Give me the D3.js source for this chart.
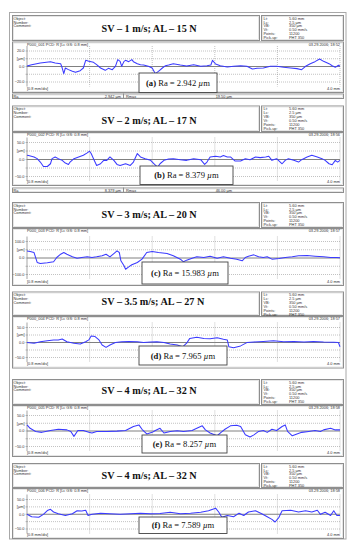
<!DOCTYPE html>
<html>
<head>
<meta charset="utf-8">
<script src="https://d3js.org/d3.v7.min.js"></script>
<style>
body { margin: 0; background: #fff; }
.small { font-family: "Liberation Sans", Arial, sans-serif; font-size: 3.9px; fill: #333; }
.title { font-family: "Liberation Serif", "Times New Roman", serif; font-size: 10.2px; font-weight: bold; fill: #111; }
.cap { font-family: "Liberation Serif", "Times New Roman", serif; font-size: 8.6px; fill: #111; }
</style>
</head>
<body>
<script>
// panel texts
var titles = ["SV – 1 m/s; AL – 15 N", "SV – 2 m/s; AL – 17 N", "SV – 3 m/s; AL – 20 N",
	"SV – 3.5 m/s; AL – 27 N", "SV – 4 m/s; AL – 32 N", "SV – 4 m/s; AL – 32 N"];
var captionLetters = ["(a)", "(b)", "(c)", "(d)", "(e)", "(f)"];
var raValues = ["2.942", "8.379", "15.983", "7.965", "8.257", "7.589"];
var rmaxValues = ["19.50", "46.00"];
var yLimits = [20, 50, 100, 50, 50, 50];
var profileNames = ["P000_001", "P000_002", "P000_003", "P000_004", "P000_005", "P000_006"];
var profileTimes = ["18:52", "18:56", "18:57", "18:57", "18:58", "18:58"];
var headerLabels = ["Object:", "Number:", "Comment:"];
var infoLabels = ["Lt:", "Lc:", "VB:", "Vt:", "Points:", "Pick-up:"];
var infoValues = ["5.60 mm", "2.5 µm", "350 µm", "0.50 mm/s", "11200", "PHT 350"];
var divTicks = [0.8, 1.6, 2.4, 3.2, 4.0];

// profiles: distance [mm], height [µm]
var dist1 = [0,0.06,0.17,0.30,0.36,0.43,0.45,0.47,0.49,0.53,0.58,0.62,0.68,0.72,0.75,0.79,0.85,0.89,0.94,1.00,1.04,1.09,1.13,1.16,1.19,1.21,1.24,1.26,1.30,1.34,1.36,1.41,1.45,1.49,1.55,1.60,1.64,1.68,1.73,1.77,1.81,1.87,1.96,2.04,2.13,2.22,2.30,2.35,2.37,2.41,2.47,2.56,2.64,2.73,2.81,2.88,2.94,3.02,3.11,3.19,3.28,3.37,3.45,3.51,3.56,3.62,3.68,3.74,3.79,3.86,3.90,3.94,3.98,4.00];
var prof1 = [0,1.7,3.9,5.6,3.9,3.0,-2.6,-9.9,-2.6,-4.7,-6.9,-8.2,-6.0,-2.6,7.3,6.0,4.7,1.7,-2.6,-5.6,-3.0,-4.7,-0.4,8.2,6.0,-0.4,6.0,7.3,5.6,8.2,5.6,3.0,1.7,1.3,-0.4,-2.6,-9.9,-6.9,-2.6,0.4,1.3,3.0,1.3,0,1.7,-0.4,0.4,1.3,7.3,2.6,0.4,-1.3,-0.4,0.4,-0.4,-3.9,-3.0,-2.6,-0.4,-0.4,-1.7,-2.6,-3.4,-4.7,-0.4,3.0,5.6,9.0,6.0,3.0,0.4,-1.7,0.9,-0.4];

var dist2 = [0,0.02,0.09,0.13,0.17,0.21,0.26,0.30,0.32,0.36,0.40,0.45,0.49,0.53,0.55,0.60,0.66,0.72,0.77,0.80,0.82,0.85,0.89,0.94,0.98,1.02,1.06,1.11,1.15,1.19,1.26,1.32,1.36,1.41,1.45,1.51,1.58,1.63,1.67,1.70,1.75,1.81,1.87,1.96,2.04,2.13,2.22,2.27,2.30,2.34,2.41,2.47,2.51,2.56,2.60,2.66,2.73,2.79,2.85,2.92,2.98,3.05,3.09,3.13,3.19,3.26,3.30,3.34,3.41,3.47,3.51,3.58,3.64,3.71,3.77,3.81,3.86,3.90,3.94,3.97,4.00];
var prof2 = [11,10,6,1,-9,-22,-22,-14,1,6,1,-4,-12,-16,-9,1,6,11,18,23,16,1,-19,-14,-4,-4,6,-4,-16,-19,-14,-19,-9,16,6,1,-4,-16,-24,-14,-4,0,1,-2,-4,1,-2,-16,-9,6,8,6,10,6,6,-6,-6,1,-2,6,4,6,8,-4,1,-14,-4,1,-4,-9,-2,6,11,6,1,-4,-14,-17,-4,-9,-4];

var dist3 = [0,0.04,0.09,0.13,0.17,0.26,0.34,0.38,0.43,0.47,0.51,0.58,0.64,0.70,0.77,0.83,0.89,0.96,1.01,1.06,1.11,1.15,1.18,1.20,1.24,1.26,1.30,1.34,1.41,1.47,1.53,1.60,1.68,1.79,1.87,1.96,2.00,2.04,2.11,2.17,2.26,2.34,2.43,2.51,2.60,2.68,2.75,2.79,2.83,2.90,2.96,3.02,3.07,3.13,3.22,3.30,3.39,3.47,3.58,3.68,3.79,3.88,3.96,4.00];
var prof3 = [40,36,30,-30,-36,-32,-26,0,20,30,20,4,-4,0,4,0,4,10,20,4,24,40,30,-20,-50,-71,-57,-44,-30,-10,30,36,30,24,10,-10,-26,-16,-4,4,0,8,-4,4,-4,-10,-20,0,8,16,4,0,4,-10,-6,0,4,10,12,8,4,0,0,-2];

var dist4 = [0,0.09,0.17,0.26,0.34,0.40,0.45,0.51,0.60,0.68,0.75,0.79,0.82,0.87,0.92,0.96,1.01,1.06,1.13,1.21,1.30,1.41,1.49,1.58,1.66,1.75,1.83,1.92,1.99,2.04,2.08,2.17,2.26,2.34,2.43,2.51,2.56,2.58,2.64,2.73,2.81,2.90,3.02,3.15,3.28,3.41,3.54,3.66,3.79,3.92,3.98,4.00];
var prof4 = [-2,-4,1,4,7,7,10,1,-4,-7,1,7,20,18,7,-10,-18,-10,-2,1,2,1,-2,0,1,-2,-7,-10,-16,-4,12,16,12,11,14,9,7,-16,-19,-13,-2,0,2,4,1,2,0,2,0,-1,-2,-16];

var dist5 = [0,0.04,0.11,0.19,0.30,0.40,0.51,0.56,0.60,0.65,0.72,0.79,0.83,0.89,1.02,1.15,1.26,1.36,1.43,1.47,1.53,1.60,1.64,1.70,1.75,1.83,1.92,2.00,2.11,2.17,2.24,2.28,2.34,2.43,2.48,2.53,2.60,2.68,2.73,2.79,2.85,2.90,2.96,3.02,3.07,3.13,3.19,3.26,3.30,3.33,3.39,3.45,3.51,3.60,3.68,3.75,3.79,3.88,3.94,4.00];
var prof5 = [18,7,-3,-6,0,4,2,-3,-19,0,0,-6,-8,-3,-3,-2,0,13,18,4,-11,-6,0,7,-8,-3,-1,-3,0,7,15,2,-8,-17,-6,4,15,17,13,-14,-21,-14,-3,0,-6,4,0,13,18,-3,-17,-11,-6,-3,0,-3,2,7,2,2];

var dist6 = [0,0.06,0.15,0.21,0.26,0.30,0.34,0.40,0.49,0.58,0.64,0.70,0.75,0.78,0.83,0.94,1.06,1.19,1.32,1.45,1.58,1.70,1.83,1.96,2.09,2.22,2.32,2.41,2.45,2.49,2.56,2.64,2.71,2.77,2.83,2.92,3.00,3.07,3.13,3.17,3.22,3.26,3.37,3.47,3.56,3.64,3.71,3.75,3.81,3.88,3.92,3.96,4.00];
var prof6 = [-2,-10,-12,-2,11,15,6,0,-6,0,10,9,12,-6,-2,2,0,-2,0,2,0,1,5,0,2,5,10,19,6,-12,-6,-10,2,-6,6,10,0,-10,-19,-28,-12,10,12,6,10,6,12,-2,5,-6,10,-6,-6];

var distances = [dist1, dist2, dist3, dist4, dist5, dist6];
var profiles = [prof1, prof2, prof3, prof4, prof5, prof6];

drawSheet();

function drawSheet(){

	var width = 355,
		height = 550;

	//layout of the six report blocks
	var plotLeft = 27, plotRight = 340;
	var headerTop = [15, 105.5, 202, 291.5, 379, 463],
		headerBot = [40, 131, 227, 315, 404, 487],
		titleBase = [31.7, 124.3, 217.5, 305, 394, 479],
		chartTop = [41.5, 132, 228, 316, 405, 488],
		chartBot = [92, 185, 285, 367.5, 456, 538],
		gridTop = [50.5, 142, 241, 327, 415, 499],
		gridBot = [81.5, 176, 274, 357, 446, 528.5],
		footTop = [93.5, 187.5],
		capBox = [[139, 73, 78, 19.5], [140, 166, 93, 18.5], [142, 262, 86, 22],
			[139, 346, 88, 19], [142, 435, 85, 18], [139, 517, 88, 16.5]];

	var svg = d3.select("body")
		.append("svg")
		.attr("width", width)
		.attr("height", height);

	//outer frame
	svg.append("rect")
		.attr("x", 9.5)
		.attr("y", 12.5)
		.attr("width", 336.5)
		.attr("height", 526.5)
		.attr("fill", "none")
		.attr("stroke", "#a8a8a8");

	var x = d3.scaleLinear()
		.domain([0, 4])
		.range([plotLeft, plotRight]);

	var line = d3.line()
		.x(function(d){ return x(d[0]); });

	function box(g, bx, by, bw, bh){
		g.append("rect")
			.attr("x", bx + 0.5).attr("y", by + 0.5)
			.attr("width", bw).attr("height", bh)
			.attr("fill", "none")
			.attr("stroke", "#8e8e8e");
		g.append("rect")
			.attr("x", bx + 1.5).attr("y", by + 1.5)
			.attr("width", bw - 2).attr("height", bh - 2)
			.attr("fill", "none")
			.attr("stroke", "#dcdcdc")
			.attr("stroke-width", 0.7);
	}

	for (var i = 0; i < 6; i++){
		var g = svg.append("g").attr("class", "panel");

		//header
		box(g, 12, headerTop[i], 247, headerBot[i] - headerTop[i]);
		box(g, 261, headerTop[i], 82, headerBot[i] - headerTop[i]);

		headerLabels.forEach(function(t, k){
			g.append("text").attr("class", "small")
				.attr("x", 13.5).attr("y", headerTop[i] + 4.6 + k * 3.9)
				.text(t);
		});
		infoLabels.forEach(function(t, k){
			g.append("text").attr("class", "small")
				.attr("x", 263.5).attr("y", headerTop[i] + 4.6 + k * 3.9)
				.text(t);
			g.append("text").attr("class", "small")
				.attr("x", 289).attr("y", headerTop[i] + 4.6 + k * 3.9)
				.text(infoValues[k]);
		});

		g.append("text")
			.attr("class", "title")
			.attr("x", 101.5)
			.attr("y", titleBase[i])
			.text(titles[i]);

		//chart box
		box(g, 12, chartTop[i], 331, chartBot[i] - chartTop[i]);

		g.append("text").attr("class", "small")
			.attr("x", plotLeft).attr("y", chartTop[i] + 4.2)
			.text(profileNames[i] + " PCD: R [Lc GS: 0.8 mm]");
		g.append("text").attr("class", "small")
			.attr("x", plotRight).attr("y", chartTop[i] + 4.2)
			.attr("text-anchor", "end")
			.text("03.29.2006; " + profileTimes[i]);
		g.append("text").attr("class", "small")
			.attr("x", plotLeft).attr("y", chartBot[i] - 2.2)
			.text("[0.8 mm/div]");
		g.append("text").attr("class", "small")
			.attr("x", plotRight).attr("y", chartBot[i] - 2.2)
			.attr("text-anchor", "end")
			.text("4.0 mm");

		var lim = yLimits[i];
		var y = d3.scaleLinear()
			.domain([-lim, lim])
			.range([gridBot[i], gridTop[i]]);
		var yTicks = [-lim, -lim / 2, 0, lim / 2, lim];
		var pTop = gridTop[i] - 4.5,
			pBot = gridBot[i] + 5;

		//horizontal grid
		var grid = g.append("g")
			.attr("transform", "translate(" + plotLeft + ",0)")
			.call(d3.axisLeft(y)
				.tickValues(yTicks)
				.tickSize(-(plotRight - plotLeft))
				.tickFormat(""));
		grid.select(".domain").remove();
		grid.selectAll(".tick line")
			.attr("stroke", function(d){ return d == 0 ? "#808080" : "#909090"; })
			.attr("stroke-width", function(d){ return d == 0 ? 1 : 0.55; })
			.attr("stroke-dasharray", function(d){ return d == 0 ? null : "1,1"; });

		//vertical grid
		g.selectAll(".vgrid" + i)
			.data(divTicks)
			.enter()
			.append("line")
			.attr("x1", function(d){ return x(d); })
			.attr("x2", function(d){ return x(d); })
			.attr("y1", pTop)
			.attr("y2", pBot)
			.attr("stroke", "#909090")
			.attr("stroke-width", 0.55)
			.attr("stroke-dasharray", "1,1");

		//y axis with labels
		var yAxis = g.append("g")
			.attr("transform", "translate(" + plotLeft + ",0)")
			.call(d3.axisLeft(y)
				.tickValues(yTicks)
				.tickSize(1.5)
				.tickPadding(1)
				.tickFormat(function(d){
					if (d == lim / 2) return "[µm]";
					if (d == -lim / 2) return "";
					return d3.format(".1f")(d);
				}));
		yAxis.select(".domain")
			.attr("d", "M0," + pTop + "V" + pBot)
			.attr("stroke", "#808080")
			.attr("stroke-width", 0.7);
		yAxis.selectAll(".tick line").attr("stroke", "#808080").attr("stroke-width", 0.5);
		yAxis.selectAll(".tick text")
			.attr("class", "small")
			.attr("font-size", null)
			.attr("font-family", null);

		//profile
		line.y(function(d){ return y(d[1]); });
		g.append("path")
			.datum(d3.zip(distances[i], profiles[i]))
			.attr("d", line)
			.attr("fill", "none")
			.attr("stroke", "#3a3aff")
			.attr("stroke-width", 1.05)
			.attr("stroke-linejoin", "round");

		//caption
		var cb = capBox[i];
		g.append("rect")
			.attr("x", cb[0]).attr("y", cb[1])
			.attr("width", cb[2]).attr("height", cb[3])
			.attr("fill", "#fff")
			.attr("stroke", "#444")
			.attr("stroke-width", 0.9);
		var ct = g.append("text")
			.attr("class", "cap")
			.attr("x", cb[0] + cb[2] / 2)
			.attr("y", cb[1] + cb[3] / 2 + 3)
			.attr("text-anchor", "middle");
		ct.append("tspan").attr("font-weight", "bold").text(captionLetters[i]);
		ct.append("tspan").text(" Ra = " + raValues[i] + " ");
		ct.append("tspan").attr("font-style", "italic").text("µ");
		ct.append("tspan").text("m");

		//result row
		if (i < rmaxValues.length){
			box(g, 12, footTop[i], 331, 4.5);
			g.append("line")
				.attr("x1", 123.5).attr("x2", 123.5)
				.attr("y1", footTop[i]).attr("y2", footTop[i] + 5)
				.attr("stroke", "#8e8e8e");
			var fy = footTop[i] + 4;
			g.append("text").attr("class", "small").attr("x", 13.5).attr("y", fy).text("Ra");
			g.append("text").attr("class", "small").attr("x", 121).attr("y", fy)
				.attr("text-anchor", "end").text(raValues[i] + " µm");
			g.append("text").attr("class", "small").attr("x", 126).attr("y", fy).text("Rmax");
			g.append("text").attr("class", "small").attr("x", 232).attr("y", fy)
				.attr("text-anchor", "end").text(rmaxValues[i] + " µm");
		}
	}
};
</script>
</body>
</html>
